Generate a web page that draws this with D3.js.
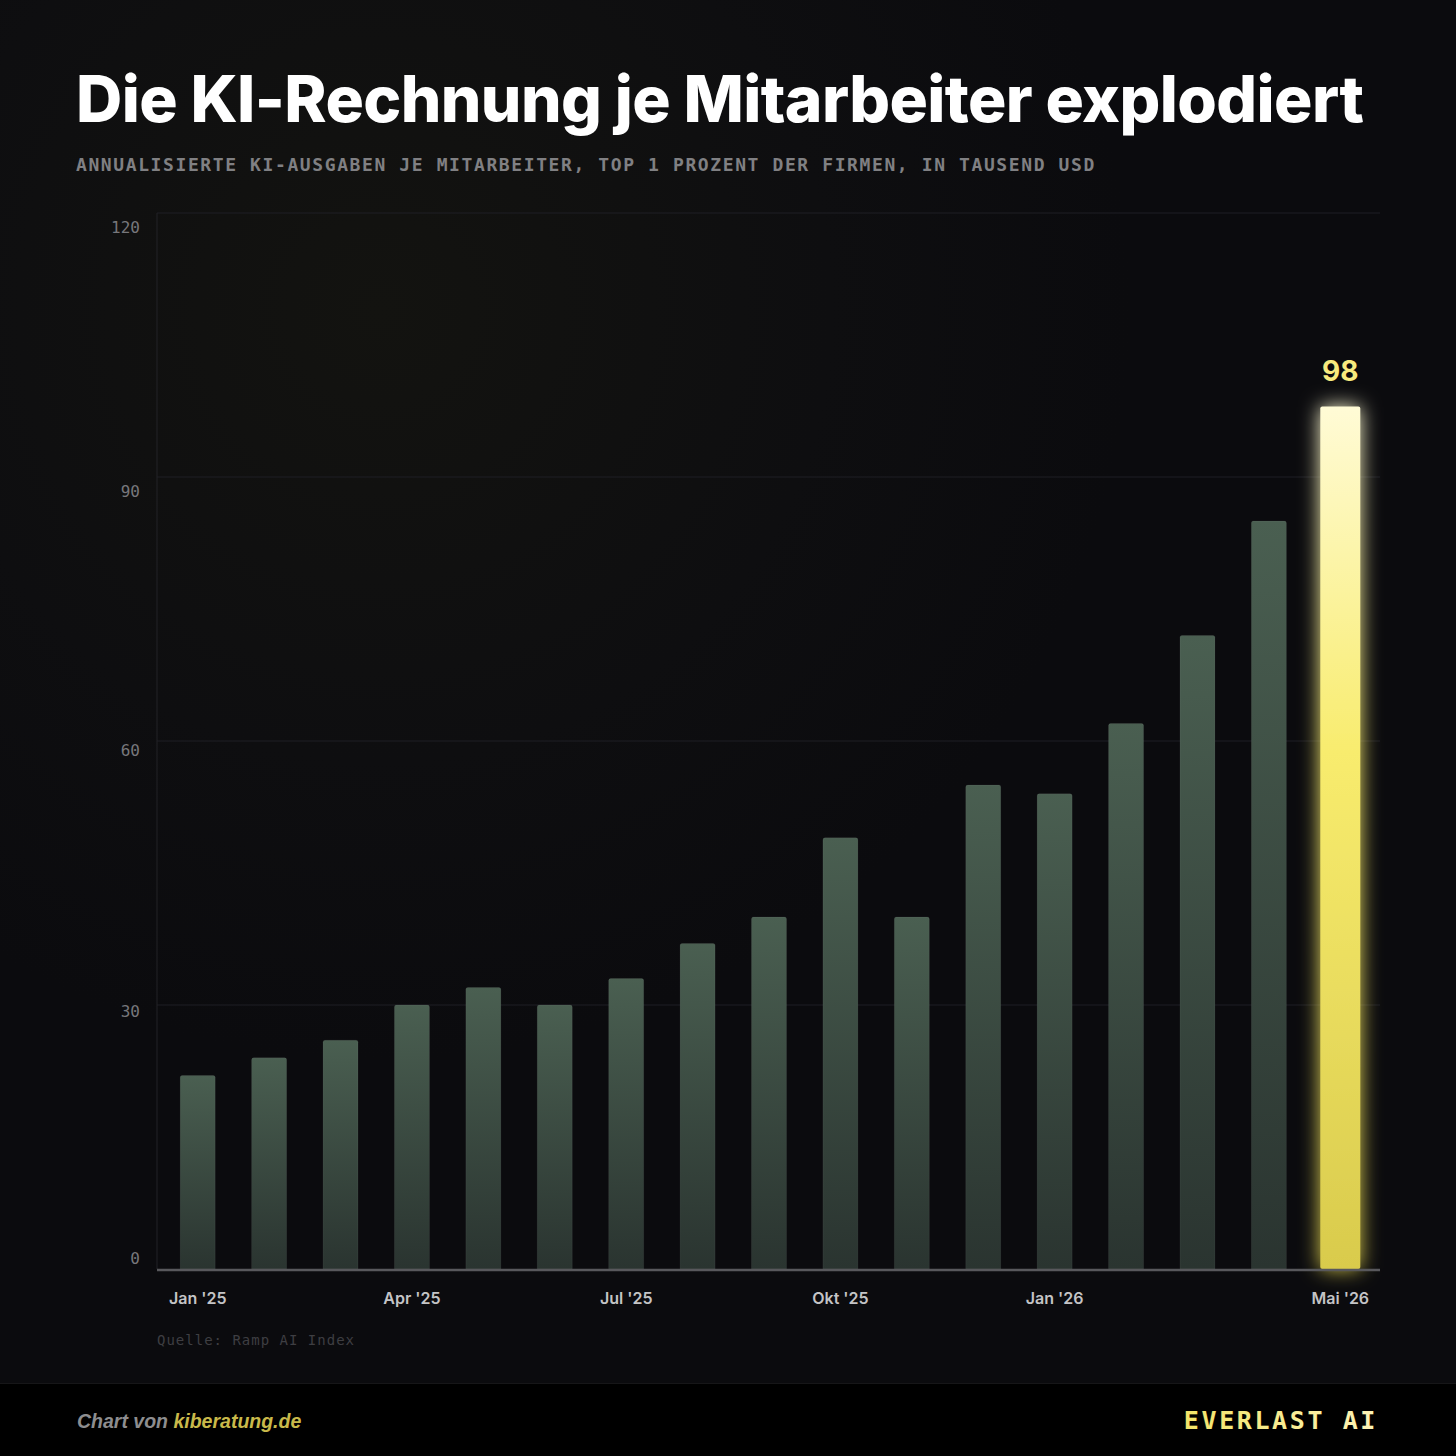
<!DOCTYPE html>
<html>
<head>
<meta charset="utf-8">
<script src="https://cdn.jsdelivr.net/npm/d3@7"></script>
<style>
  html, body { margin: 0; padding: 0; background: #0b0b0e; }
  svg { display: block; }
</style>
</head>
<body>
<script>
const w = 1456;
const h = 1456;

// data
const months = ["Jan '25", "Feb '25", "Mär '25", "Apr '25", "Mai '25", "Jun '25", "Jul '25", "Aug '25",
    "Sep '25", "Okt '25", "Nov '25", "Dez '25", "Jan '26", "Feb '26", "Mär '26", "Apr '26", "Mai '26"];
const spend = [22, 24, 26, 30, 32, 30, 33, 37, 40, 49, 40, 55, 54, 62, 72, 85, 98];
const yTicks = [0, 30, 60, 90, 120];
const xLabels = ["Jan '25", "Apr '25", "Jul '25", "Okt '25", "Jan '26", "Mai '26"];

const title = "Die KI-Rechnung je Mitarbeiter explodiert";
const subtitle = "ANNUALISIERTE KI-AUSGABEN JE MITARBEITER, TOP 1 PROZENT DER FIRMEN, IN TAUSEND USD";
const source = "Quelle: Ramp AI Index";

const mono = "'DejaVu Sans Mono', 'Liberation Mono', monospace";
const sans = "Inter, 'Noto Sans', sans-serif";

const svg = d3.select("body")
    .append("svg")
    .attr("width", w)
    .attr("height", h)
    ;

const defs = svg.append("defs");

const bg = defs.append("radialGradient")
    .attr("id", "bgGlow")
    .attr("cx", 380).attr("cy", 310).attr("r", 750)
    .attr("gradientUnits", "userSpaceOnUse");
bg.append("stop").attr("offset", "0").attr("stop-color", "#131310");
bg.append("stop").attr("offset", "0.6").attr("stop-color", "#0e0e10");
bg.append("stop").attr("offset", "1").attr("stop-color", "#0b0b0e");

const barGrad = defs.append("linearGradient")
    .attr("id", "barGrad")
    .attr("x1", 0).attr("y1", 0).attr("x2", 0).attr("y2", 1);
barGrad.append("stop").attr("offset", "0").attr("stop-color", "#4a5f51");
barGrad.append("stop").attr("offset", "1").attr("stop-color", "#2a3430");

const hiGrad = defs.append("linearGradient")
    .attr("id", "hiGrad")
    .attr("x1", 0).attr("y1", 0).attr("x2", 0).attr("y2", 1);
hiGrad.append("stop").attr("offset", "0").attr("stop-color", "#fffbd6");
hiGrad.append("stop").attr("offset", "0.4").attr("stop-color", "#f8ec6e");
hiGrad.append("stop").attr("offset", "1").attr("stop-color", "#d9cb4c");

const brandGrad = defs.append("linearGradient")
    .attr("id", "brandGrad")
    .attr("x1", 0).attr("y1", 0).attr("x2", 1).attr("y2", 0);
brandGrad.append("stop").attr("offset", "0").attr("stop-color", "#f3e468");
brandGrad.append("stop").attr("offset", "1").attr("stop-color", "#fdf3b8");

const glow = defs.append("filter")
    .attr("id", "glow")
    .attr("x", "-150%").attr("y", "-20%").attr("width", "400%").attr("height", "140%");
glow.append("feGaussianBlur").attr("in", "SourceGraphic").attr("stdDeviation", 10).attr("result", "blur");
const merge = glow.append("feMerge");
merge.append("feMergeNode").attr("in", "blur");
merge.append("feMergeNode").attr("in", "SourceGraphic");

svg.append("rect")
    .attr("width", w).attr("height", h)
    .attr("fill", "url(#bgGlow)");

// titles
svg.append("text")
    .attr("x", 76).attr("y", 122)
    .attr("fill", "#ffffff")
    .attr("font-family", sans)
    .attr("font-weight", 800)
    .attr("font-size", 64)
    .attr("letter-spacing", -0.6)
    .text(title);

svg.append("text")
    .attr("x", 76).attr("y", 171)
    .attr("fill", "#808083")
    .attr("font-family", mono)
    .attr("font-weight", "bold")
    .attr("font-size", 18)
    .attr("letter-spacing", 1.6)
    .text(subtitle);

// scales
const x = d3.scaleBand()
    .domain(months)
    .range([162, 1376])
    .paddingInner(0.51)
    .paddingOuter(0.255);

const y = d3.scaleLinear()
    .domain([0, 120])
    .range([1269, 213]);

// tick labels are not exactly on their grid lines in the original
const yLabel = d3.scaleLinear()
    .domain([0, 30, 60, 90, 120])
    .range([1264, 1017, 756, 497, 233]);

const left = 157, right = 1380;

svg.append("g")
    .selectAll("line")
    .data(yTicks.filter(d => d > 0))
    .enter()
    .append("line")
    .attr("x1", left).attr("x2", right)
    .attr("y1", d => y(d)).attr("y2", d => y(d))
    .attr("stroke", "#1f1f24")
    .attr("stroke-width", 1);

svg.append("line")
    .attr("x1", left).attr("x2", left)
    .attr("y1", y(120)).attr("y2", y(0))
    .attr("stroke", "#222227");

svg.append("g")
    .selectAll("text")
    .data(yTicks)
    .enter()
    .append("text")
    .attr("x", 140)
    .attr("y", d => yLabel(d))
    .attr("text-anchor", "end")
    .attr("fill", "#77777b")
    .attr("font-family", mono)
    .attr("font-size", 16)
    .text(d => d);

// bars
const last = months.length - 1;
svg.append("g")
    .selectAll("path")
    .data(spend.slice(0, last))
    .enter()
    .append("path")
    .attr("d", (d, i) => {
        const x0 = x(months[i]), bw = x.bandwidth(), y0 = y(d), y1 = y(0), r = 2;
        return `M${x0},${y1}V${y0 + r}Q${x0},${y0} ${x0 + r},${y0}H${x0 + bw - r}Q${x0 + bw},${y0} ${x0 + bw},${y0 + r}V${y1}Z`;
    })
    .attr("fill", "url(#barGrad)")
    .attr("stroke", "rgba(255,255,255,0.05)")
    .attr("stroke-width", 1);

const hiW = 40;
const hiX = x(months[last]) + x.bandwidth() / 2 - hiW / 2;
svg.append("rect")
    .attr("x", hiX)
    .attr("y", y(spend[last]))
    .attr("width", hiW)
    .attr("height", y(0) - y(spend[last]))
    .attr("rx", 2)
    .attr("fill", "url(#hiGrad)")
    .attr("filter", "url(#glow)");

svg.append("text")
    .attr("x", x(months[last]) + x.bandwidth() / 2)
    .attr("y", y(spend[last]) - 26)
    .attr("text-anchor", "middle")
    .attr("fill", "#f7ea7e")
    .attr("font-family", sans)
    .attr("font-weight", 700)
    .attr("font-size", 28)
    .text(spend[last]);

// baseline
svg.append("line")
    .attr("x1", left).attr("x2", right)
    .attr("y1", y(0) + 1).attr("y2", y(0) + 1)
    .attr("stroke", "#58585c")
    .attr("stroke-width", 2.5);

// x labels
svg.append("g")
    .selectAll("text")
    .data(xLabels)
    .enter()
    .append("text")
    .attr("x", d => x(d) + x.bandwidth() / 2)
    .attr("y", 1304)
    .attr("text-anchor", "middle")
    .attr("fill", "#c4c4c6")
    .attr("font-family", sans)
    .attr("font-weight", 600)
    .attr("font-size", 16)
    .text(d => d);

svg.append("text")
    .attr("x", 157).attr("y", 1345)
    .attr("fill", "#3e3e42")
    .attr("font-family", mono)
    .attr("font-size", 14)
    .attr("letter-spacing", 1)
    .text(source);

// footer
svg.append("rect")
    .attr("x", 0).attr("y", 1383)
    .attr("width", w).attr("height", h - 1383)
    .attr("fill", "#000000");
svg.append("line")
    .attr("x1", 0).attr("x2", w)
    .attr("y1", 1383.5).attr("y2", 1383.5)
    .attr("stroke", "#161618");

const credit = svg.append("text")
    .attr("x", 77).attr("y", 1428)
    .attr("font-family", "'Liberation Sans', Arial, sans-serif")
    .attr("font-style", "italic")
    .attr("font-weight", "bold")
    .attr("font-size", 19.5)
    .attr("letter-spacing", 0);
credit.append("tspan").attr("fill", "#8d8d8f").text("Chart von ");
credit.append("tspan").attr("fill", "#c9b94a").text("kiberatung.de");

svg.append("text")
    .attr("x", 1378).attr("y", 1429)
    .attr("text-anchor", "end")
    .attr("fill", "url(#brandGrad)")
    .attr("font-family", mono)
    .attr("font-weight", "bold")
    .attr("font-size", 25)
    .attr("letter-spacing", 2.6)
    .text("EVERLAST AI");
</script>
</body>
</html>
